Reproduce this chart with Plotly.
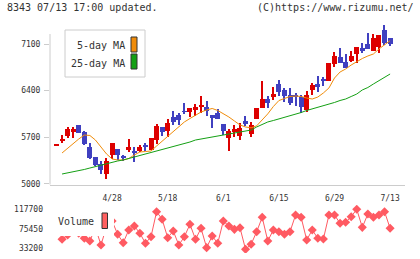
import plotly.graph_objects as go

# ---------------- data ----------------
label_idx = [10, 20, 30, 40, 50, 60]
label_txt = ["4/28", "5/18", "6/1", "6/15", "6/29", "7/13"]

opens = [5580, 5642, 5722, 5782, 5883, 5777, 5548, 5397, 5296, 5142,
         5427, 5522, 5417, 5502, 5496, 5492, 5582, 5512, 5657, 5853,
         5792, 5998, 6033, 6093, 6082, 6108, 6158, 6149, 6033, 6067,
         5898, 5692, 5782, 5722, 5943, 5752, 5973, 6143, 6273, 6308,
         6499, 6409, 6333, 6318, 6299, 6108, 6409, 6494, 6574, 6544,
         6795, 6909, 6834, 6845, 6945, 7035, 7100, 6995, 7059, 7310,
         7186]
highs = [5585, 5732, 5853, 5853, 5883, 5797, 5607, 5397, 5342, 5382,
         5607, 5522, 5432, 5672, 5557, 5577, 5617, 5683, 5898, 5853,
         5968, 6093, 6058, 6209, 6138, 6198, 6318, 6248, 6033, 6119,
         5898, 5818, 5883, 5917, 6018, 5923, 6143, 6544, 6318, 6458,
         6559, 6439, 6434, 6359, 6333, 6394, 6518, 6619, 6608, 6815,
         6984, 7044, 6945, 6995, 7055, 7110, 7270, 7246, 7235, 7386,
         7186]
lows = [5580, 5617, 5687, 5692, 5762, 5582, 5367, 5266, 5142, 5071,
        5372, 5357, 5342, 5477, 5331, 5482, 5487, 5507, 5592, 5722,
        5707, 5883, 5883, 6043, 5998, 6022, 6058, 6018, 5842, 5968,
        5732, 5496, 5698, 5657, 5872, 5707, 5968, 6134, 6143, 6258,
        6318, 6233, 6183, 6168, 6058, 6082, 6333, 6383, 6469, 6544,
        6759, 6819, 6744, 6834, 6819, 6960, 7029, 6995, 6969, 7085,
        7070]
closes = [5585, 5672, 5818, 5818, 5767, 5601, 5391, 5281, 5206, 5342,
          5607, 5432, 5382, 5552, 5472, 5552, 5557, 5683, 5868, 5782,
          5913, 5932, 5958, 6078, 6138, 6153, 6188, 6093, 5992, 5977,
          5792, 5792, 5823, 5842, 5898, 5883, 6143, 6273, 6218, 6348,
          6374, 6323, 6209, 6308, 6158, 6333, 6484, 6458, 6544, 6810,
          6920, 6819, 6744, 6924, 7055, 6995, 7029, 7186, 7235, 7120,
          7100]
ma5 = [None, 5462, 5537, 5612, 5672, 5732, 5725, 5657, 5552, 5447, 5372,
       5357, 5357, 5379, 5432, 5477, 5484, 5492, 5567, 5642, 5702,
       5777, 5853, 5928, 5980, 6033, 6078, 6108, 6131, 6101, 6055,
       6003, 5943, 5883, 5853, 5840, 5870, 5960, 6050, 6160, 6250,
       6281, 6311, 6318, 6311, 6288, 6273, 6303, 6364, 6439, 6589,
       6679, 6724, 6784, 6834, 6882, 6920, 6950, 7025, 7092, 7150]
ma25 = [None, 5146, 5161, 5176, 5191, 5214, 5236, 5259, 5281, 5304, 5326,
        5342, 5357, 5379, 5402, 5424, 5447, 5469, 5492, 5515, 5537,
        5560, 5582, 5605, 5627, 5657, 5672, 5687, 5702, 5717, 5732,
        5747, 5755, 5770, 5785, 5807, 5853, 5890, 5928, 5950, 5973,
        5995, 6025, 6048, 6070, 6101, 6123, 6146, 6168, 6198, 6221,
        6251, 6273, 6311, 6348, 6409, 6446, 6499, 6551, 6604, 6649]
volume = [None, 52700, 62000, 70000, 66000, 54800, 49000, 78000, 40400, 80000, 92000,
          63400, 45400, 72700, 81200, 65600, 44100, 58300, 112000, 95600, 56100,
          70500, 40400, 58300, 84900, 52700, 76300, 34700, 59800, 44100, 92000,
          81200, 74100, 77600, 31200, 41900, 69000, 99900, 49000, 72700, 69000,
          63400, 69000, 104900, 99900, 51200, 72700, 54800, 53300, 104900, 104900,
          87000, 89200, 101200, 117100, 78400, 107000, 99900, 104900, 112000, 76300]
price_ticks = [5000, 5700, 6400, 7100]
vol_ticks = [33200, 75450, 117700]

# ---------------- styling ----------------
RED = "#dd0000"
BLUE = "#4040c0"
ORANGE = "#f08c0a"
GREEN = "#14a014"
VOLC = "#ff5a62"
AXC = "#cccccc"
TXT = "#333333"
MONO = "DejaVu Sans Mono"

W, H = 420, 259
ML, MR, MT, MB = 50, 15, 18, 6
PW, PH = W - ML - MR, H - MT - MB


def px(x):
    return (x - ML) / PW


def py(y):
    return (H - MB - y) / PH


idx = list(range(len(opens)))
colors = [RED if c >= o else BLUE for o, c in zip(opens, closes)]
body_base = [min(o, c) for o, c in zip(opens, closes)]
body_h = [max(abs(c - o), 14) for o, c in zip(opens, closes)]
wick_h = [h - l for h, l in zip(highs, lows)]

fig = go.Figure()
fig.add_trace(go.Bar(x=idx, y=wick_h, base=lows, width=0.2,
                     marker=dict(color=colors, line=dict(width=0)),
                     xaxis="x", yaxis="y", showlegend=False, hoverinfo="skip"))
fig.add_trace(go.Bar(x=idx, y=body_h, base=body_base, width=0.9,
                     marker=dict(color=colors, line=dict(width=0)),
                     xaxis="x", yaxis="y", showlegend=False))
fig.add_trace(go.Scatter(x=idx, y=ma5, mode="lines", line=dict(color=ORANGE, width=1),
                         xaxis="x", yaxis="y", showlegend=False))
fig.add_trace(go.Scatter(x=idx, y=ma25, mode="lines", line=dict(color=GREEN, width=1),
                         xaxis="x", yaxis="y", showlegend=False))
fig.add_trace(go.Scatter(x=idx, y=volume, mode="lines+markers",
                         line=dict(color=VOLC, width=1),
                         marker=dict(symbol="diamond", size=7, color=VOLC),
                         xaxis="x2", yaxis="y2", showlegend=False))

xr = [(ML - 56.5) / 5.56, (ML + PW - 56.5) / 5.56]
pd_bottom = py(184.7)
yr_price = [7100 - (184.7 - 44) * 15.03, 7100 - (MT - 44) * 15.03]
yr_vol = [75450 - (H - MB - 228.7) * 2148, 75450 - (205 - 228.7) * 2148]
vd_top = py(205)

tickfont = dict(family=MONO, size=8, color=TXT)
common = dict(showgrid=False, zeroline=False, automargin=False, fixedrange=True)

fig.update_layout(
    width=W, height=H,
    margin=dict(l=ML, r=MR, t=MT, b=MB, pad=0, autoexpand=False),
    paper_bgcolor="white", plot_bgcolor="white",
    barmode="overlay", bargap=0,
    showlegend=False,
    xaxis=dict(domain=[0, 1], range=xr, anchor="y",
               tickmode="array", tickvals=label_idx, ticktext=label_txt,
               ticks="", showline=True, linecolor=AXC, linewidth=1,
               tickfont=tickfont, ticklabelstandoff=6, **common),
    xaxis3=dict(overlaying="x", anchor="y", range=[0, 11], tickmode="array",
                tickvals=list(range(12)), ticks="outside", ticklen=4,
                tickcolor=AXC, showticklabels=False, showline=False, **common),
    xaxis4=dict(overlaying="x", anchor="y", range=[0, 11], tickmode="array",
                tickvals=list(range(12)), ticks="inside", ticklen=4,
                tickcolor=AXC, showticklabels=False, showline=False, **common),
    yaxis=dict(domain=[pd_bottom, 1], range=yr_price, anchor="x",
               tickmode="array", tickvals=price_ticks,
               ticks="outside", ticklen=5, tickcolor=AXC, showline=False,
               tickfont=tickfont, ticklabelstandoff=2, **common),
    yaxis3=dict(overlaying="y", anchor="x", range=yr_price, tickmode="array",
                tickvals=price_ticks, ticks="inside", ticklen=3,
                tickcolor=AXC, showticklabels=False, showline=False,
                side="left", **common),
    xaxis2=dict(domain=[0, 1], range=xr, anchor="y2", showticklabels=False,
                ticks="", showline=False, **common),
    yaxis2=dict(domain=[0, vd_top], range=yr_vol, anchor="x2",
                tickmode="array", tickvals=vol_ticks,
                ticktext=[str(v) for v in vol_ticks],
                ticks="", showline=False,
                tickfont=tickfont, ticklabelstandoff=6, **common),
)

shapes = [
    dict(type="line", xref="paper", yref="y", x0=0, x1=0,
         y0=yr_price[0], y1=7250, line=dict(color=AXC, width=1)),
    dict(type="rect", xref="paper", yref="paper", x0=px(65), x1=px(145),
         y0=py(77), y1=py(30), line=dict(color=AXC, width=1), fillcolor="white",
         layer="above"),
    dict(type="rect", xref="paper", yref="paper", x0=px(131), x1=px(137),
         y0=py(52), y1=py(37), line=dict(color="#333333", width=1),
         fillcolor=ORANGE, layer="above"),
    dict(type="rect", xref="paper", yref="paper", x0=px(131), x1=px(137),
         y0=py(69), y1=py(54), line=dict(color="#333333", width=1),
         fillcolor=GREEN, layer="above"),
    dict(type="rect", xref="paper", yref="paper", x0=px(55), x1=px(114),
         y0=py(236), y1=py(210), line=dict(width=0), fillcolor="white",
         layer="above"),
    dict(type="rect", xref="paper", yref="paper", x0=px(102), x1=px(107.5),
         y0=py(228.5), y1=py(213), line=dict(color="#333333", width=1),
         fillcolor="#ff6060", layer="above"),
]
fig.update_layout(shapes=shapes)

f10 = dict(family=MONO, size=10, color=TXT)
ann = [
    dict(text="8343 07/13 17:00 updated.", x=px(6), y=py(7.5),
         xanchor="left", yanchor="middle"),
    dict(text="(C)https://www.rizumu.net/", x=px(415), y=py(7.5),
         xanchor="right", yanchor="middle"),
    dict(text="5-day MA", x=px(126), y=py(45.5), xanchor="right", yanchor="middle"),
    dict(text="25-day MA", x=px(126), y=py(63), xanchor="right", yanchor="middle"),
    dict(text="Volume", x=px(57), y=py(221.5), xanchor="left", yanchor="middle"),
]
for a in ann:
    a.update(xref="paper", yref="paper", showarrow=False, font=f10, borderpad=0)
fig.update_layout(annotations=ann)

fig.write_html("out.html")
